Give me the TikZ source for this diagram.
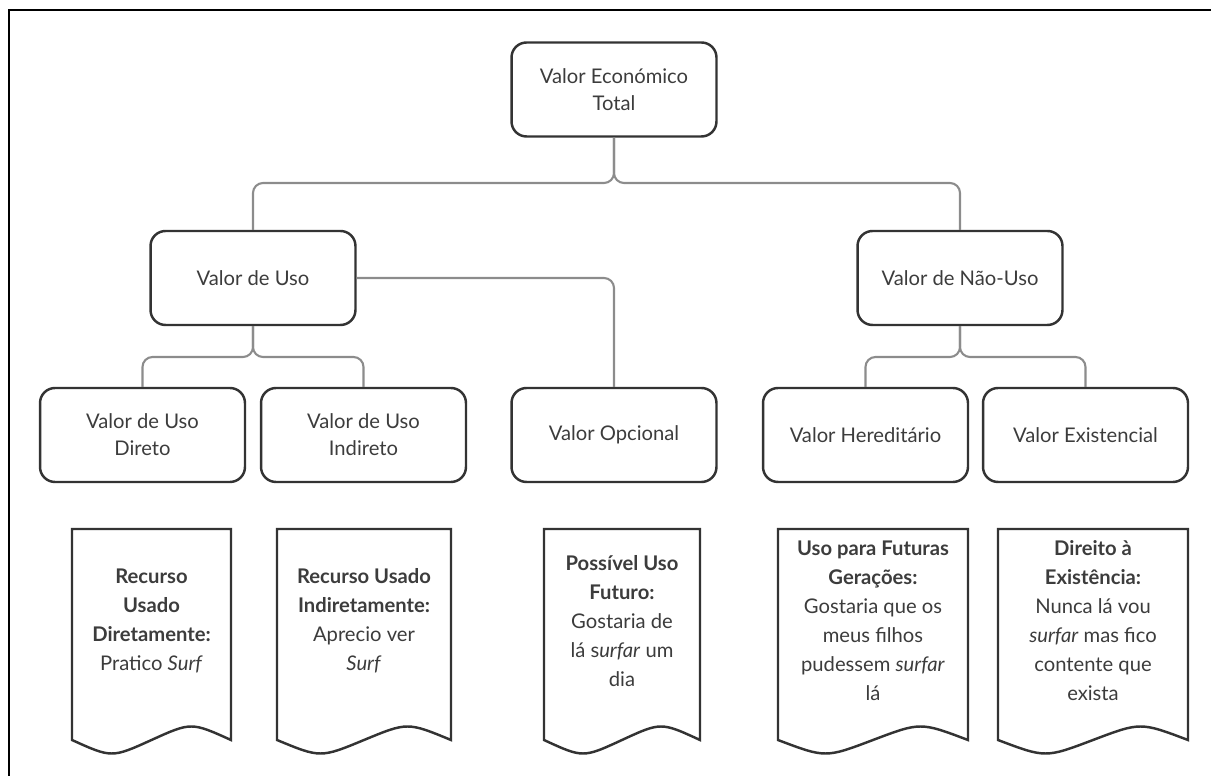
\documentclass[tikz,border=0pt]{standalone}
\usepackage{fontspec}
\setmainfont{Lato}
\definecolor{boxc}{HTML}{333333}
\definecolor{conc}{HTML}{8C8C8C}
\definecolor{txt}{HTML}{3C3C3C}
\newcommand\docshape[4]{%
  \draw[docpath] (#1,529) -- (#2,529) -- (#2,740)
    .. controls ({#2-0.25*(#2-#1)},722) .. ({(#1+#2)/2},740)
    .. controls ({#1+0.25*(#2-#1)},758) .. (#1,740) -- cycle;
  \node[doctext] (#3) at ({(#1+#2)/2},621) {#4};}
\begin{document}
\begin{tikzpicture}[x=0.02cm,y=-0.02cm,
  box/.style={draw=boxc, line width=1.4pt, rounded corners=0.3cm, minimum width=4.1cm, minimum height=1.88cm, align=center, text=txt, font=\fontsize{11.5}{15.5}\selectfont, inner sep=0pt},
  conn/.style={draw=conc, line width=1.2pt, rounded corners=0.2cm},
  docpath/.style={draw=boxc, line width=1.4pt, fill=white},
  doctext/.style={align=center, text=txt, font=\fontsize{11.5}{16.5}\selectfont, inner sep=0pt}]
\useasboundingbox (0,0) rectangle (1211,776);
\draw[line width=1.2pt] (9,776) -- (9,10) -- (1211,10);

\node[box] (vet) at (614,89.5) {Valor Económico\\Total};
\node[box] (uso) at (253,278) {Valor de Uso};
\node[box] (nuso) at (960,278) {Valor de Não-Uso};
\node[box] (dir) at (142.5,435) {Valor de Uso\\Direto};
\node[box] (ind) at (363.5,435) {Valor de Uso\\Indireto};
\node[box] (opc) at (614,435) {Valor Opcional};
\node[box] (her) at (865.5,435) {Valor Hereditário};
\node[box] (exi) at (1085.5,435) {Valor Existencial};

\coordinate (j0) at (614,183);
\coordinate (j1) at (253,357);
\coordinate (j2) at (960,357);
\draw[conn] (vet.south) -- (j0) -| (uso.north);
\draw[conn] (vet.south) -- (j0) -| (nuso.north);
\draw[conn] (uso.south) -- (j1) -| (dir.north);
\draw[conn] (uso.south) -- (j1) -| (ind.north);
\draw[conn] (uso.east) -| (opc.north);
\draw[conn] (nuso.south) -- (j2) -| (her.north);
\draw[conn] (nuso.south) -- (j2) -| (exi.north);

\docshape{72}{231}{d1}{\textbf{Recurso}\\\textbf{Usado}\\\textbf{Diretamente:}\\Pratico \textit{Surf}}
\docshape{277}{451}{d2}{\textbf{Recurso Usado}\\\textbf{Indiretamente:}\\Aprecio ver\\\textit{Surf}}
\docshape{544}{700}{d3}{\textbf{Possível Uso}\\\textbf{Futuro:}\\Gostaria de\\lá s\textit{urfar} um\\dia}
\docshape{778}{968}{d4}{\textbf{Uso para Futuras}\\\textbf{Gerações:}\\Gostaria que os\\meus filhos\\pudessem \textit{surfar}\\lá}
\docshape{998}{1188}{d5}{\textbf{Direito à}\\\textbf{Existência:}\\Nunca lá vou\\\textit{surfar} mas fico\\contente que\\exista}
\end{tikzpicture}
\end{document}
